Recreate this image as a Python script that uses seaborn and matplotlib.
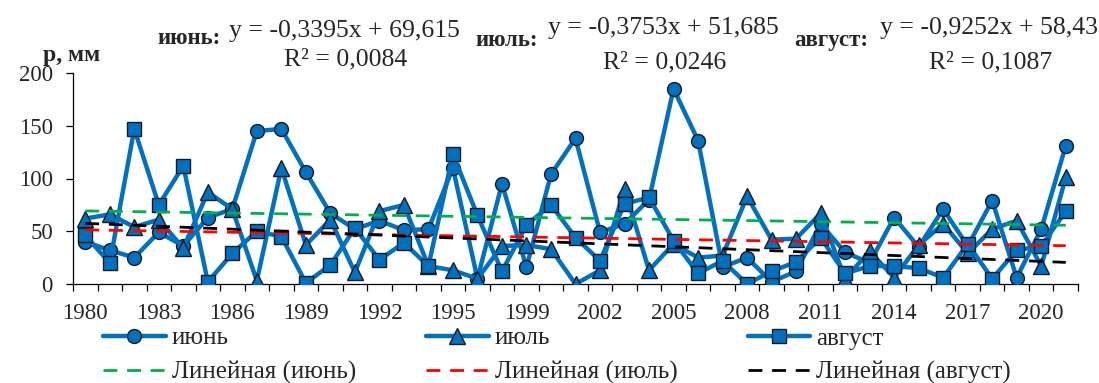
import numpy as np
import pandas as pd
import matplotlib
matplotlib.use("Agg")
import matplotlib.pyplot as plt
import seaborn as sns

# ---- data ----
years = [1980, 1981, 1982, 1983, 1984, 1985, 1986, 1987, 1988, 1989,
         1990, 1991, 1992, 1993, 1994, 1995, 1996, 1997, 1999, 2000,
         2001, 2002, 2003, 2004, 2005, 2006, 2007, 2008, 2009, 2010,
         2011, 2012, 2013, 2014, 2015, 2016, 2017, 2018, 2019, 2020, 2021]
june = [40, 32, 25, 49, 36, 63, 71, 145, 147, 106,
        67, 52, 60, 51, 52, 110, 5, 95, 16, 104,
        138, 49, 57, 80, 185, 136, 16, 25, 2, 12,
        57, 30, 20, 63, 35, 71, 36, 79, 6, 52, 131]
july = [62, 66, 54, 61, 34, 87, 71, 3, 110, 37,
        61, 11, 69, 75, 17, 13, 5, 36, 37, 33,
        0, 13, 90, 13, 38, 25, 27, 83, 42, 43,
        67, 5, 31, 6, 37, 57, 29, 52, 60, 17, 101]
august = [46, 20, 147, 75, 112, 2, 29, 50, 45, 1,
          18, 53, 23, 39, 17, 123, 65, 12, 56, 75,
          44, 22, 76, 82, 41, 10, 22, 0, 12, 21,
          44, 10, 17, 17, 15, 6, 38, 5, 32, 36, 69]
series_names = ["июнь", "июль", "август"]
trend_slopes = [-0.3395, -0.3753, -0.9252]
trend_intercepts = [69.615, 51.685, 58.43]
equations = ["y = -0,3395x + 69,615", "y = -0,3753x + 51,685", "y = -0,9252x + 58,43"]
r2_texts = ["R² = 0,0084", "R² = 0,0246", "R² = 0,1087"]
y_label = "р, мм"

sns.set_theme(style="white")
plt.rcParams["font.family"] = ["Liberation Serif", "DejaVu Serif"]

W, H = 1099, 383
fig = plt.figure(figsize=(W / 100, H / 100), dpi=100)
ax = fig.add_axes([73 / W, 1 - 284 / H, (1078 - 73) / W, (284 - 73) / H])

idx = np.arange(len(years))
df = pd.DataFrame({"idx": idx, "июнь": june, "июль": july, "август": august})

blue = "#0070C0"
markers = ["o", "^", "s"]
msizes = [10, 11, 10]
for name, m, ms in zip(series_names, markers, msizes):
    sns.lineplot(data=df, x="idx", y=name, ax=ax, color=blue, linewidth=3.2,
                 marker=m, markersize=ms, markerfacecolor=blue,
                 markeredgecolor="#1b1b1b", markeredgewidth=1.0,
                 label=name, legend=False, zorder=3)

trend_colors = ["#00B050", "#FF0000", "#000000"]
xs = idx + 1
for name, s, b, c in zip(series_names, trend_slopes, trend_intercepts, trend_colors):
    tdf = pd.DataFrame({"idx": idx, "y": s * xs + b})
    sns.lineplot(data=tdf, x="idx", y="y", ax=ax, color=c, linewidth=2.0,
                 linestyle=(0, (5, 3.5)), label=f"Линейная ({name})",
                 legend=False, zorder=4)

ax.set_xlim(-0.5, len(years) - 0.5)
ax.set_ylim(0, 200)
ax.set_xlabel("")
ax.set_ylabel("")
for sp in ["top", "right"]:
    ax.spines[sp].set_visible(False)
for sp in ["left", "bottom"]:
    ax.spines[sp].set_color("black")
    ax.spines[sp].set_linewidth(0.9)

ax.set_yticks([0, 50, 100, 150, 200])
ax.tick_params(axis="y", which="major", direction="out", length=5, width=0.9,
               color="black", labelsize=16.5, pad=9.5, left=True)
# category boundaries as tick marks, labels every 3rd category
ax.set_xticks(np.arange(len(years) + 1) - 0.5)
ax.set_xticklabels([])
ax.tick_params(axis="x", which="major", direction="out", length=5, width=0.9,
               color="black", bottom=True)
lab_pos = idx[::3]
ax.set_xticks(lab_pos, minor=True)
ax.set_xticklabels([str(years[i]) for i in lab_pos], minor=True)
ax.tick_params(axis="x", which="minor", length=0, labelsize=16.5, pad=14)
ax.grid(False)

# header texts
def ftxt(x, y, s, **kw):
    fig.text(x / W, 1 - y / H, s, va="baseline", **kw)

ftxt(43, 61, y_label, fontsize=17, fontweight="bold")
heads = ["июнь:", "июль:", "август:"]
head_x = [157, 475, 794]
head_y = [44, 46.5, 46]
eq_cx = [344, 663, 989]
eq_y = [37, 34, 34]
r2_y = [65, 68, 68]
for h, hx, hy, e, ex, ey, r, ry in zip(heads, head_x, head_y, equations, eq_cx, eq_y, r2_texts, r2_y):
    ftxt(hx, hy, h, fontsize=16.5, fontweight="bold")
    ftxt(ex, ey, e, fontsize=18.5, ha="center")
    ftxt(ex + 2, ry, r, fontsize=18.5, ha="center")

handles, labels = ax.get_legend_handles_labels()
order = [0, 3, 1, 4, 2, 5]
fig.legend([handles[i] for i in order], [labels[i] for i in order], ncol=3,
           loc="upper left", bbox_to_anchor=(103 / W, 1 - 327 / H),
           frameon=False, fontsize=18, handlelength=2.5, handletextpad=0.25,
           columnspacing=2.8, labelspacing=0.45, borderpad=0, borderaxespad=0)

fig.savefig("out.png", dpi=100)
